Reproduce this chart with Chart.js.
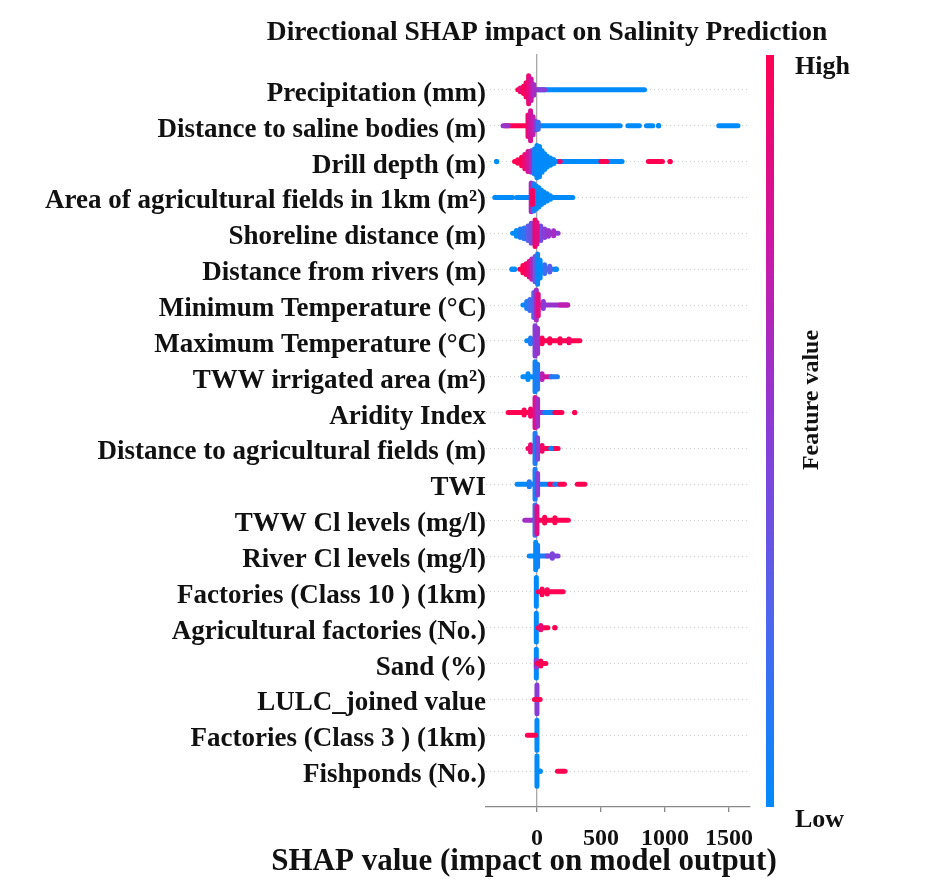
<!DOCTYPE html>
<html>
<head>
<meta charset="utf-8">
<script src="https://cdn.jsdelivr.net/npm/chart.js@4.4.0/dist/chart.umd.min.js"></script>
<style>
  html, body { margin: 0; padding: 0; background: #fff; }
  #wrap { width: 934px; height: 892px; }
</style>
</head>
<body>
<div id="wrap"><canvas id="grafico" width="934" height="892"></canvas></div>
<script>
const chartTitle = "Directional SHAP impact on Salinity Prediction";
const xTitle = "SHAP value (impact on model output)";
const xTicks = [0, 500, 1000, 1500];
const features = [
  "Precipitation (mm)",
  "Distance to saline bodies (m)",
  "Drill depth (m)",
  "Area of agricultural fields in 1km (m²)",
  "Shoreline distance (m)",
  "Distance from rivers (m)",
  "Minimum Temperature (°C)",
  "Maximum Temperature (°C)",
  "TWW irrigated area (m²)",
  "Aridity Index",
  "Distance to agricultural fields (m)",
  "TWI",
  "TWW Cl levels (mg/l)",
  "River Cl levels (mg/l)",
  "Factories (Class 10 ) (1km)",
  "Agricultural factories (No.)",
  "Sand (%)",
  "LULC_joined value",
  "Factories (Class 3 ) (1km)",
  "Fishponds (No.)"
];

// marks read off the beeswarm, feature value 0 = low (blue) .. 1 = high (red)
// ["r", shapFrom, shapTo, fv]  dense run of points along the row
// ["p", shap, halfHeight (rows), fv]  vertical pile of points
// ["d", shap, fv]  single point
const precipitation = [
  ["r", 0, 840, 0], ["r", -150, -10, 1], ["p", -130, 0.05, 0.9], ["p", -105, 0.1, 1],
  ["p", -85, 0.2, 0.95], ["p", -65, 0.39, 0.9], ["p", -45, 0.3, 0.75], ["p", -25, 0.15, 0.6],
  ["r", 10, 60, 0.5]
];
const salineDistance = [
  ["r", 0, 650, 0], ["r", 710, 800, 0], ["r", 855, 905, 0], ["d", 950, 0], ["r", 1420, 1570, 0],
  ["r", -250, -60, 1], ["r", -265, -225, 0.55], ["p", -70, 0.3, 0.9], ["p", -50, 0.42, 0.8],
  ["p", -30, 0.25, 0.7], ["p", -10, 0.12, 0.5], ["p", 10, 0.1, 0.2]
];
const drillDepth = [
  ["d", -315, 0], ["r", -175, -40, 1], ["p", -150, 0.05, 1], ["p", -120, 0.12, 1],
  ["p", -95, 0.2, 0.9], ["p", -70, 0.28, 0.8], ["p", -45, 0.3, 0.6],
  ["r", 0, 665, 0], ["p", -20, 0.35, 0.1], ["p", 0, 0.45, 0], ["p", 20, 0.42, 0], ["p", 40, 0.3, 0],
  ["p", 60, 0.22, 0], ["p", 80, 0.15, 0], ["p", 105, 0.1, 0], ["p", 130, 0.06, 0],
  ["d", 180, 0.9], ["r", 500, 545, 1], ["r", 870, 980, 1], ["d", 1040, 1]
];
const agriArea = [
  ["r", -330, -190, 0], ["r", -160, -60, 0], ["r", 0, 280, 0],
  ["p", -45, 0.4, 0.6], ["p", -25, 0.38, 0.1], ["p", -5, 0.32, 0], ["p", 15, 0.27, 0],
  ["p", 35, 0.2, 0], ["p", 55, 0.15, 0], ["p", 80, 0.1, 0], ["p", 105, 0.05, 0],
  ["p", -35, 0.2, 0.95]
];
const shoreline = [
  ["r", -190, -30, 0], ["p", -160, 0.08, 0], ["p", -130, 0.12, 0.1], ["p", -100, 0.15, 0.15],
  ["p", -70, 0.2, 0.3], ["p", -45, 0.28, 0.4], ["r", 0, 165, 0.5], ["p", 30, 0.2, 0.4],
  ["p", 60, 0.12, 0.5], ["p", 90, 0.08, 0.55], ["p", 130, 0.07, 0.6], ["p", -15, 0.37, 0.95],
  ["p", 0, 0.3, 0.85]
];
const riverDistance = [
  ["d", -195, 0], ["d", -175, 0], ["r", -135, -30, 1], ["p", -110, 0.1, 1], ["p", -85, 0.15, 0.95],
  ["p", -60, 0.22, 0.85], ["p", -40, 0.28, 0.7], ["r", 0, 150, 0.1], ["p", 60, 0.12, 0.2],
  ["p", 100, 0.08, 0.3], ["d", 150, 0], ["p", -15, 0.35, 0.3], ["p", 5, 0.42, 0.05], ["p", 25, 0.25, 0]
];
const minTemperature = [
  ["r", -110, -20, 0], ["p", -80, 0.1, 0.1], ["p", -55, 0.15, 0.2], ["r", 10, 240, 0.55],
  ["p", 50, 0.1, 0.5], ["r", 180, 240, 0.7], ["p", -25, 0.35, 0.3], ["p", -5, 0.42, 0.6],
  ["p", 10, 0.3, 0.85]
];
const maxTemperature = [
  ["r", -80, -20, 0], ["p", -50, 0.08, 0.1], ["r", 10, 335, 1], ["p", 40, 0.08, 1],
  ["p", 100, 0.06, 1], ["p", 180, 0.06, 1], ["p", 250, 0.05, 0.95], ["p", -15, 0.42, 0.5],
  ["p", 5, 0.35, 0.55]
];
const twwArea = [
  ["r", -110, -20, 0], ["p", -70, 0.08, 0], ["r", 10, 110, 0.8], ["p", 40, 0.08, 0.7],
  ["r", 110, 160, 0.1], ["p", -15, 0.42, 0.05], ["p", 5, 0.35, 0.1]
];
const aridity = [
  ["r", -225, -20, 1], ["p", -100, 0.07, 1], ["p", -50, 0.1, 0.95], ["r", 10, 60, 0.6],
  ["r", 60, 140, 0.05], ["r", 140, 195, 1], ["d", 295, 1], ["p", -15, 0.42, 0.8], ["p", 5, 0.38, 0.6]
];
const agriDistance = [
  ["r", -70, -10, 1], ["p", -50, 0.1, 0.9], ["r", 10, 165, 1], ["p", 40, 0.08, 0.95],
  ["d", 110, 0.05], ["p", -15, 0.42, 0.1], ["p", 5, 0.3, 0.45]
];
const twi = [
  ["r", -155, -20, 0], ["p", -60, 0.07, 0.1], ["r", 10, 100, 0.05], ["r", 100, 140, 1],
  ["r", 140, 170, 0.1], ["r", 180, 215, 1], ["r", 315, 375, 1], ["p", -15, 0.42, 0.1], ["p", 5, 0.3, 0.5]
];
const twwChloride = [
  ["r", -95, -20, 0.6], ["r", 10, 245, 1], ["p", 60, 0.08, 1], ["p", 140, 0.07, 1],
  ["p", -15, 0.42, 0.2], ["p", 0, 0.38, 0.85]
];
const riverChloride = [
  ["r", -60, -10, 0], ["r", 10, 80, 0.1], ["r", 80, 165, 0.45], ["p", 120, 0.06, 0.45],
  ["p", -10, 0.38, 0], ["p", 5, 0.3, 0.05]
];
const factories10 = [
  ["p", -5, 0.4, 0], ["r", 10, 205, 1], ["p", 40, 0.08, 1], ["p", 80, 0.06, 1]
];
const agriFactories = [
  ["p", -5, 0.4, 0], ["r", 10, 85, 1], ["p", 30, 0.06, 0.9], ["d", 140, 1]
];
const sand = [
  ["p", -5, 0.4, 0], ["p", -5, 0.1, 0.5], ["r", 0, 70, 1], ["p", 30, 0.07, 1]
];
const lulc = [
  ["p", 0, 0.4, 0.5], ["r", -20, 25, 1]
];
const factories3 = [
  ["p", 0, 0.42, 0], ["r", -75, -10, 1]
];
const fishponds = [
  ["p", 0, 0.42, 0], ["d", 25, 0], ["r", 160, 220, 1]
];

const featureMarks = [precipitation, salineDistance, drillDepth, agriArea, shoreline, riverDistance,
  minTemperature, maxTemperature, twwArea, aridity, agriDistance, twi, twwChloride, riverChloride,
  factories10, agriFactories, sand, lulc, factories3, fishponds];

// shap red_blue colour map
const colourStops = [[0, 138, 250], [78, 102, 238], [138, 60, 214], [204, 22, 166], [255, 0, 82]];
function colour(fv) {
  const t = Math.max(0, Math.min(1, fv)) * (colourStops.length - 1);
  const i = Math.min(Math.floor(t), colourStops.length - 2);
  const f = t - i;
  const a = colourStops[i], b = colourStops[i + 1];
  return `rgb(${Math.round(a[0] + (b[0] - a[0]) * f)},${Math.round(a[1] + (b[1] - a[1]) * f)},${Math.round(a[2] + (b[2] - a[2]) * f)})`;
}

const datasets = [];
featureMarks.forEach((marks, row) => {
  marks.forEach(m => {
    const kind = m[0];
    const c = colour(kind === "d" ? m[2] : m[3]);
    let data;
    if (kind === "r") data = [{ x: m[1], y: row }, { x: m[2], y: row }];
    else if (kind === "p") data = [{ x: m[1], y: row - m[2] }, { x: m[1], y: row + m[2] }];
    else data = [{ x: m[1], y: row }];
    datasets.push({
      data: data,
      showLine: true,
      borderColor: c,
      backgroundColor: c,
      borderWidth: 5,
      borderCapStyle: "round",
      pointRadius: kind === "d" ? 2.6 : 0,
      pointBorderWidth: 0
    });
  });
});
datasets.reverse(); // first dataset is painted last

const serif = "'Liberation Serif', 'Times New Roman', serif";

const extras = {
  id: "extras",
  afterDraw(chart) {
    const c = chart.ctx;
    c.save();
    c.fillStyle = "#111";
    c.textBaseline = "middle";
    c.textAlign = "center";
    c.font = `bold 27.5px ${serif}`;
    c.fillText(chartTitle, 547, 33);
    c.font = `bold 31px ${serif}`;
    c.fillText(xTitle, 524, 862);

    // colour bar
    const top = 55, bottom = 807;
    const g = c.createLinearGradient(0, bottom, 0, top);
    for (let k = 0; k <= 20; k++) g.addColorStop(k / 20, colour(k / 20));
    c.fillStyle = g;
    c.fillRect(766, top, 8, bottom - top);

    c.fillStyle = "#111";
    c.textAlign = "left";
    c.font = `bold 26px ${serif}`;
    c.fillText("High", 795, 67);
    c.fillText("Low", 795, 820);
    c.translate(812, 400);
    c.rotate(-Math.PI / 2);
    c.textAlign = "center";
    c.font = `bold 24px ${serif}`;
    c.fillText("Feature value", 0, 0);
    c.restore();
  }
};

const ctx = document.getElementById("grafico").getContext("2d");
const chart = new Chart(ctx, {
  type: "scatter",
  data: { datasets: datasets },
  plugins: [extras],
  options: {
    responsive: false,
    animation: false,
    events: [],
    layout: { padding: { top: 54, right: 184, bottom: 0, left: 0 } },
    plugins: { legend: { display: false }, tooltip: { enabled: false } },
    scales: {
      x: {
        type: "linear",
        min: -398,
        max: 1664,
        afterBuildTicks: s => { s.ticks = xTicks.map(v => ({ value: v })); },
        afterFit: s => { s.height = 85; },
        grid: {
          color: c => (c.tick && c.tick.value === 0 ? "#a8a8a8" : "rgba(0,0,0,0)"),
          lineWidth: 1.3,
          tickLength: 5,
          tickColor: "#888"
        },
        border: { color: "#888", width: 1.3 },
        ticks: {
          font: { family: serif, weight: "bold", size: 24 },
          color: "#111",
          padding: 12,
          maxRotation: 0,
          callback: v => String(v)
        }
      },
      y: {
        type: "linear",
        reverse: true,
        min: -1,
        max: 20,
        afterBuildTicks: s => { s.ticks = features.map((f, i) => ({ value: i })); },
        afterFit: s => { s.width = 486; },
        grid: { color: "#cfcfcf", lineWidth: 1, drawTicks: false },
        border: { display: false, dash: [1, 3] },
        ticks: {
          autoSkip: false,
          padding: 0,
          labelOffset: 4,
          color: "#111",
          font: { family: serif, weight: "bold", size: 27 },
          callback: v => features[v]
        }
      }
    }
  }
});
</script>
</body>
</html>
